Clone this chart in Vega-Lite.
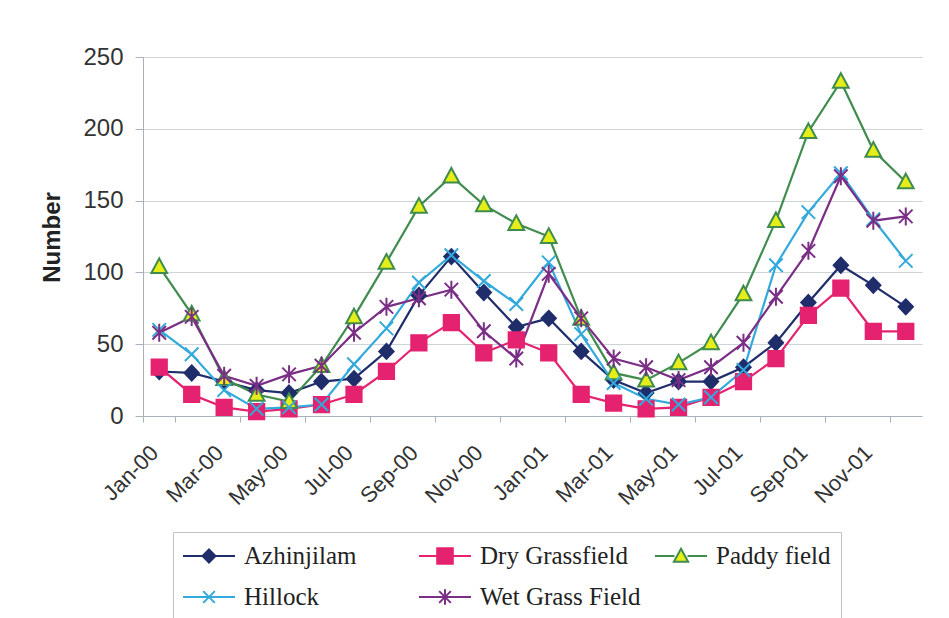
{
  "$schema": "https://vega.github.io/schema/vega-lite/v6.json",
  "width": 779,
  "height": 359,
  "autosize": "none",
  "padding": {"left": 143, "top": 57, "right": 27, "bottom": 202},
  "background": "white",
  "data": {
    "values": [
      {"month": "Jan-00", "Azhinjilam": 31, "Dry Grassfield": 34, "Paddy field": 104, "Hillock": 60, "Wet Grass Field": 58},
      {"month": "Feb-00", "Azhinjilam": 30, "Dry Grassfield": 15, "Paddy field": 71, "Hillock": 43, "Wet Grass Field": 69},
      {"month": "Mar-00", "Azhinjilam": 24, "Dry Grassfield": 6, "Paddy field": 26, "Hillock": 18, "Wet Grass Field": 28},
      {"month": "Apr-00", "Azhinjilam": 18, "Dry Grassfield": 3, "Paddy field": 15, "Hillock": 5, "Wet Grass Field": 21},
      {"month": "May-00", "Azhinjilam": 16, "Dry Grassfield": 5, "Paddy field": 10, "Hillock": 6, "Wet Grass Field": 29},
      {"month": "Jun-00", "Azhinjilam": 24, "Dry Grassfield": 8, "Paddy field": 35, "Hillock": 8, "Wet Grass Field": 35},
      {"month": "Jul-00", "Azhinjilam": 26, "Dry Grassfield": 15, "Paddy field": 69, "Hillock": 36, "Wet Grass Field": 58},
      {"month": "Aug-00", "Azhinjilam": 45, "Dry Grassfield": 31, "Paddy field": 107, "Hillock": 61, "Wet Grass Field": 76},
      {"month": "Sep-00", "Azhinjilam": 84, "Dry Grassfield": 51, "Paddy field": 146, "Hillock": 93, "Wet Grass Field": 82},
      {"month": "Oct-00", "Azhinjilam": 111, "Dry Grassfield": 65, "Paddy field": 167, "Hillock": 112, "Wet Grass Field": 88},
      {"month": "Nov-00", "Azhinjilam": 86, "Dry Grassfield": 44, "Paddy field": 147, "Hillock": 94, "Wet Grass Field": 59},
      {"month": "Dec-00", "Azhinjilam": 62, "Dry Grassfield": 53, "Paddy field": 134, "Hillock": 78, "Wet Grass Field": 40},
      {"month": "Jan-01", "Azhinjilam": 68, "Dry Grassfield": 44, "Paddy field": 125, "Hillock": 107, "Wet Grass Field": 99},
      {"month": "Feb-01", "Azhinjilam": 45, "Dry Grassfield": 15, "Paddy field": 68, "Hillock": 57, "Wet Grass Field": 68},
      {"month": "Mar-01", "Azhinjilam": 25, "Dry Grassfield": 9, "Paddy field": 30, "Hillock": 23, "Wet Grass Field": 40},
      {"month": "Apr-01", "Azhinjilam": 16, "Dry Grassfield": 5, "Paddy field": 25, "Hillock": 12, "Wet Grass Field": 34},
      {"month": "May-01", "Azhinjilam": 24, "Dry Grassfield": 6, "Paddy field": 37, "Hillock": 8, "Wet Grass Field": 25},
      {"month": "Jun-01", "Azhinjilam": 24, "Dry Grassfield": 13, "Paddy field": 51, "Hillock": 13, "Wet Grass Field": 34},
      {"month": "Jul-01", "Azhinjilam": 34, "Dry Grassfield": 24, "Paddy field": 85, "Hillock": 32, "Wet Grass Field": 51},
      {"month": "Aug-01", "Azhinjilam": 51, "Dry Grassfield": 40, "Paddy field": 136, "Hillock": 105, "Wet Grass Field": 83},
      {"month": "Sep-01", "Azhinjilam": 79, "Dry Grassfield": 70, "Paddy field": 198, "Hillock": 142, "Wet Grass Field": 115},
      {"month": "Oct-01", "Azhinjilam": 105, "Dry Grassfield": 89, "Paddy field": 233, "Hillock": 169, "Wet Grass Field": 167},
      {"month": "Nov-01", "Azhinjilam": 91, "Dry Grassfield": 59, "Paddy field": 185, "Hillock": 137, "Wet Grass Field": 136},
      {"month": "Dec-01", "Azhinjilam": 76, "Dry Grassfield": 59, "Paddy field": 163, "Hillock": 108, "Wet Grass Field": 139}
    ]
  },
  "transform": [
    {"fold": ["Azhinjilam", "Dry Grassfield", "Paddy field", "Hillock", "Wet Grass Field"], "as": ["site", "count"]}
  ],
  "encoding": {
    "x": {
      "field": "month",
      "type": "ordinal",
      "sort": null,
      "scale": {"paddingInner": 0, "paddingOuter": 0},
      "axis": {
        "title": null,
        "values": ["Jan-00", "Mar-00", "May-00", "Jul-00", "Sep-00", "Nov-00", "Jan-01", "Mar-01", "May-01", "Jul-01", "Sep-01", "Nov-01"],
        "tickBand": "extent",
        "labelAngle": -45,
        "labelAlign": "right",
        "labelBaseline": "middle",
        "labelFont": "Liberation Sans",
        "labelFontSize": 22,
        "labelColor": "#333333",
        "labelPadding": 27,
        "labelOffset": -5,
        "tickSize": 6,
        "tickColor": "#a9b2ba",
        "domainColor": "#a9b2ba",
        "grid": false
      }
    },
    "y": {
      "field": "count",
      "type": "quantitative",
      "scale": {"domain": [0, 250], "nice": false},
      "axis": {
        "title": "Number",
        "titleFont": "Liberation Sans",
        "titleFontSize": 24,
        "titleFontWeight": "bold",
        "titleColor": "#222222",
        "titleAngle": -90,
        "titleX": -84,
        "titleY": 180,
        "titleAlign": "center",
        "titleBaseline": "alphabetic",
        "values": [0, 50, 100, 150, 200, 250],
        "labelFont": "Liberation Sans",
        "labelFontSize": 24,
        "labelColor": "#333333",
        "labelPadding": 12,
        "tickSize": 8,
        "tickColor": "#a9b2ba",
        "domainColor": "#a9b2ba",
        "grid": true,
        "gridColor": "#ccd4da",
        "gridWidth": 1
      }
    }
  },
  "layer": [
    {
      "mark": {"type": "line", "strokeWidth": 2.2},
      "encoding": {
        "stroke": {
          "field": "site",
          "type": "nominal",
          "scale": {
            "domain": ["Azhinjilam", "Dry Grassfield", "Paddy field", "Hillock", "Wet Grass Field"],
            "range": ["#1f2d6b", "#e5226f", "#3f8c4e", "#33a9dc", "#7a2e85"]
          },
          "legend": {
            "title": null, "orient": "none", "legendX": 30, "legendY": 475, "direction": "horizontal", "columns": 3, "gridAlign": "all",
            "symbolSize": 676, "symbolStrokeWidth": 2, "symbolOpacity": 1, "symbolOffset": 12, "labelOffset": 21, "columnPadding": 10, "rowPadding": 14,
            "labelFont": "Liberation Serif", "labelFontSize": 25, "labelColor": "#222222", "labelLimit": 400,
            "padding": 10, "strokeColor": "#bcc5cc", "fillColor": "white"
          }
        }
      }
    },
    {
      "mark": {"type": "point", "opacity": 0, "strokeWidth": 2},
      "encoding": {
        "stroke": {
          "field": "site",
          "type": "nominal",
          "legend": {
            "title": null, "orient": "none", "legendX": 30, "legendY": 475, "direction": "horizontal", "columns": 3, "gridAlign": "all",
            "symbolSize": 676, "symbolStrokeWidth": 2, "symbolOpacity": 1, "symbolOffset": 12, "labelOffset": 21, "columnPadding": 10, "rowPadding": 14,
            "labelFont": "Liberation Serif", "labelFontSize": 25, "labelColor": "#222222", "labelLimit": 400,
            "padding": 10, "strokeColor": "#bcc5cc", "fillColor": "white"
          }
        },
        "fill": {
          "field": "site",
          "type": "nominal",
          "scale": {
            "domain": ["Azhinjilam", "Dry Grassfield", "Paddy field", "Hillock", "Wet Grass Field"],
            "range": ["#1f2d6b", "#e5226f", "#e6ee1a", "transparent", "transparent"]
          },
          "legend": {
            "title": null, "orient": "none", "legendX": 30, "legendY": 475, "direction": "horizontal", "columns": 3, "gridAlign": "all",
            "symbolSize": 676, "symbolStrokeWidth": 2, "symbolOpacity": 1, "symbolOffset": 12, "labelOffset": 21, "columnPadding": 10, "rowPadding": 14,
            "labelFont": "Liberation Serif", "labelFontSize": 25, "labelColor": "#222222", "labelLimit": 400,
            "padding": 10, "strokeColor": "#bcc5cc", "fillColor": "white"
          }
        },
        "shape": {
          "field": "site",
          "type": "nominal",
          "scale": {
            "domain": ["Azhinjilam", "Dry Grassfield", "Paddy field", "Hillock", "Wet Grass Field"],
            "range": [
              "M-2,0H-0.5M0.5,0H2M0,-0.5L0.5,0L0,0.5L-0.5,0Z",
              "M-2,0H-0.6M0.6,0H2M-0.6,-0.6H0.6V0.6H-0.6Z",
              "M-2,0H-0.5M0.5,0H2M0,-0.55L0.55,0.45L-0.55,0.45Z",
              "M-2,0H2M-0.45,-0.45L0.45,0.45M-0.45,0.45L0.45,-0.45",
              "M-2,0H2M-0.45,-0.45L0.45,0.45M-0.45,0.45L0.45,-0.45M0,-0.6V0.6"
            ]
          },
          "legend": {
            "title": null, "orient": "none", "legendX": 30, "legendY": 475, "direction": "horizontal", "columns": 3, "gridAlign": "all",
            "symbolSize": 676, "symbolStrokeWidth": 2, "symbolOpacity": 1, "symbolOffset": 12, "labelOffset": 21, "columnPadding": 10, "rowPadding": 14,
            "labelFont": "Liberation Serif", "labelFontSize": 25, "labelColor": "#222222", "labelLimit": 400,
            "padding": 10, "strokeColor": "#bcc5cc", "fillColor": "white"
          }
        }
      }
    },
    {
      "transform": [{"filter": "datum.site === 'Azhinjilam'"}],
      "mark": {"type": "point", "shape": "M0,-1.05L1,0L0,1.05L-1,0Z", "size": 225, "filled": true, "fill": "#1f2d6b", "stroke": "#1f2d6b", "strokeWidth": 1.5, "opacity": 1}
    },
    {
      "transform": [{"filter": "datum.site === 'Dry Grassfield'"}],
      "mark": {"type": "point", "shape": "M-1.05,-1.05H1.05V1.05H-1.05Z", "size": 225, "filled": true, "fill": "#e5226f", "stroke": "#e5226f", "strokeWidth": 1.5, "opacity": 1}
    },
    {
      "transform": [{"filter": "datum.site === 'Paddy field'"}],
      "mark": {"type": "point", "shape": "M0,-1.1L1.05,0.85L-1.05,0.85Z", "size": 225, "filled": true, "fill": "#e6ee1a", "stroke": "#3f8c4e", "strokeWidth": 2, "opacity": 1}
    },
    {
      "transform": [{"filter": "datum.site === 'Hillock'"}],
      "mark": {"type": "point", "shape": "M-0.9,-0.9L0.9,0.9M-0.9,0.9L0.9,-0.9", "size": 225, "filled": false, "fill": "transparent", "stroke": "#33a9dc", "strokeWidth": 2, "opacity": 1}
    },
    {
      "transform": [{"filter": "datum.site === 'Wet Grass Field'"}],
      "mark": {"type": "point", "shape": "M-0.9,-0.9L0.9,0.9M-0.9,0.9L0.9,-0.9M0,-1.2V1.2", "size": 225, "filled": false, "fill": "transparent", "stroke": "#7a2e85", "strokeWidth": 2, "opacity": 1}
    }
  ],
  "config": {
    "view": {"stroke": null}
  }
}
